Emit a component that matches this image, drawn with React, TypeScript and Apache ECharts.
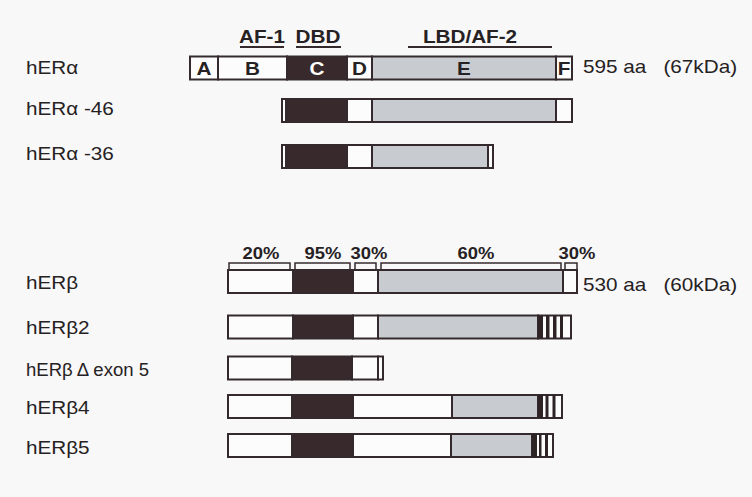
import React, { useEffect, useRef } from "react";
import * as echarts from "echarts";

// ---- data (layout units: 752 x 497 frame) ----
const rowNames = ["hERα", "hERα -46", "hERα -36", "hERβ", "hERβ2", "hERβ Δ exon 5", "hERβ4", "hERβ5"];
const rowCenters = [68, 110.5, 156.5, 281.5, 327, 368, 406.5, 445.5];
const rowLabelY = [68, 108.5, 154, 283, 328, 370, 408, 447.5];
const rowLabelWidthScale = [1.15, 1.15, 1.15, 1.15, 1.15, 1.03, 1.15, 1.15];
const rowLabelStart = 26;

// segments: [start, end, fill kind, letter]
const hERa = [[190, 218, "open", "A"], [218, 287, "open", "B"], [287, 347, "dark", "C"], [347, 372, "open", "D"], [372, 556, "grey", "E"], [556, 572, "open", "F"]];
const hERa46 = [[282, 286, "open", ""], [286, 347, "dark", ""], [347, 372, "open", ""], [372, 556, "grey", ""], [556, 572, "open", ""]];
const hERa36 = [[282, 286, "open", ""], [286, 347, "dark", ""], [347, 372, "open", ""], [372, 488, "grey", ""], [488, 493, "open", ""]];
const hERb = [[228, 293, "open", ""], [293, 353, "dark", ""], [353, 378, "open", ""], [378, 563, "grey", ""], [563, 577, "open", ""]];
const hERb2 = [[228, 293, "open", ""], [293, 353, "dark", ""], [353, 378, "open", ""], [378, 538, "grey", ""], [538, 571, "open", ""], [538, 543, "stripe", ""], [546, 549.5, "stripe", ""], [553, 556.5, "stripe", ""], [560, 563, "stripe", ""]];
const hERbExon5 = [[228, 292, "open", ""], [292, 352, "dark", ""], [352, 378, "open", ""], [378, 383, "open", ""]];
const hERb4 = [[228, 292, "open", ""], [292, 353, "dark", ""], [353, 452, "open", ""], [452, 538, "grey", ""], [538, 562, "open", ""], [538, 543, "stripe", ""], [545.5, 548.5, "stripe", ""], [552.5, 555.5, "stripe", ""]];
const hERb5 = [[228, 292, "open", ""], [292, 353, "dark", ""], [353, 451, "open", ""], [451, 532, "grey", ""], [532, 553, "open", ""], [532, 537, "stripe", ""], [539, 541.5, "stripe", ""], [545, 548, "stripe", ""]];
const rowSegments = [hERa, hERa46, hERa36, hERb, hERb2, hERbExon5, hERb4, hERb5];

// identity brackets above hERβ
const betaBracketSpans = [[229, 290], [295, 350], [355, 376], [381, 561], [565, 577]];
const betaIdentity = ["20%", "95%", "30%", "60%", "30%"];
const betaIdentityX = [261, 323, 369, 476, 577];
const bracketTop = 263;
const bracketBottom = 269;
const identityY = 253;

// domain headers
const headerLabels = ["AF-1", "DBD", "LBD/AF-2"];
const headerTextX = [262, 318, 470];
const headerUnderline = [[240, 284], [296, 341], [408, 552]];
const headerY = 37;
const underlineY = 47;

// protein sizes
const sizeLabels = ["595 aa   (67kDa)", "530 aa   (60kDa)"];
const sizeX = 583;
const sizeY = [67, 285];

const BAR_H = 23;
const FONT = "'Liberation Sans', Arial, Helvetica, sans-serif";
const INK = "#262123";
const EDGE = "#342a2e";
const FILL: Record<string, string> = { open: "#fcfcfc", dark: "#382a2c", grey: "#c8ccd0", stripe: "#2e2426" };
const STRETCH = 1.15;

export default function App() {
  const ref = useRef<HTMLDivElement>(null);
  useEffect(() => {
    if (!ref.current) return;
    const chart = echarts.init(ref.current, undefined, { renderer: "svg" });

    const flatSegs: any[] = [];
    rowSegments.forEach((segs, r) => {
      segs.forEach((s) => flatSegs.push({ start: s[0], end: s[1], y: rowCenters[r], kind: s[2], letter: s[3] }));
    });

    const option: any = {
      animation: false,
      backgroundColor: "#f8f8f8",
      grid: { left: 0, right: 0, top: 0, bottom: 0 },
      xAxis: { type: "value", min: 0, max: 752, show: false },
      yAxis: { type: "value", min: 0, max: 497, inverse: true, show: false },
      series: [
        {
          type: "custom",
          name: "domains",
          data: flatSegs.map((s) => [s.start, s.end, s.y]),
          renderItem: (params: any, api: any) => {
            const s = flatSegs[params.dataIndex];
            const a = api.coord([api.value(0), api.value(2)]);
            const b = api.coord([api.value(1), api.value(2)]);
            const h = api.size([0, BAR_H])[1];
            const isStripe = s.kind === "stripe";
            const children: any[] = [
              {
                type: "rect",
                shape: { x: a[0], y: a[1] - h / 2, width: b[0] - a[0], height: h },
                style: isStripe
                  ? { fill: FILL.stripe, stroke: "none", lineWidth: 0 }
                  : { fill: FILL[s.kind], stroke: EDGE, lineWidth: 2 },
              },
            ];
            if (s.letter) {
              children.push({
                type: "text",
                x: (a[0] + b[0]) / 2,
                y: a[1] + 1,
                scaleX: STRETCH,
                style: {
                  text: s.letter,
                  fill: s.kind === "dark" ? "#ffffff" : INK,
                  fontFamily: FONT,
                  fontWeight: "bold",
                  fontSize: 18,
                  align: "center",
                  verticalAlign: "middle",
                },
              });
            }
            return { type: "group", children };
          },
        },
        {
          type: "custom",
          name: "identity",
          data: betaBracketSpans.map((s, i) => [s[0], s[1], betaIdentityX[i]]),
          renderItem: (params: any, api: any) => {
            const x0 = api.coord([api.value(0), bracketTop]);
            const x1 = api.coord([api.value(1), bracketBottom]);
            const t = api.coord([api.value(2), identityY]);
            return {
              type: "group",
              children: [
                {
                  type: "polyline",
                  shape: { points: [[x0[0], x1[1]], [x0[0], x0[1]], [x1[0], x0[1]], [x1[0], x1[1]]] },
                  style: { fill: "none", stroke: EDGE, lineWidth: 1.5 },
                },
                {
                  type: "text",
                  x: t[0],
                  y: t[1],
                  scaleX: STRETCH,
                  style: {
                    text: betaIdentity[params.dataIndex],
                    fill: INK,
                    fontFamily: FONT,
                    fontWeight: "bold",
                    fontSize: 16,
                    align: "center",
                    verticalAlign: "middle",
                  },
                },
              ],
            };
          },
        },
        {
          type: "custom",
          name: "headers",
          data: headerUnderline.map((s, i) => [s[0], s[1], headerTextX[i]]),
          renderItem: (params: any, api: any) => {
            const l0 = api.coord([api.value(0), underlineY]);
            const l1 = api.coord([api.value(1), underlineY]);
            const t = api.coord([api.value(2), headerY]);
            return {
              type: "group",
              children: [
                {
                  type: "line",
                  shape: { x1: l0[0], y1: l0[1], x2: l1[0], y2: l1[1] },
                  style: { stroke: EDGE, lineWidth: 2 },
                },
                {
                  type: "text",
                  x: t[0],
                  y: t[1],
                  scaleX: STRETCH,
                  style: {
                    text: headerLabels[params.dataIndex],
                    fill: INK,
                    fontFamily: FONT,
                    fontWeight: "bold",
                    fontSize: 18,
                    align: "center",
                    verticalAlign: "middle",
                  },
                },
              ],
            };
          },
        },
        {
          type: "custom",
          name: "rowLabels",
          data: rowLabelY.map((y) => [rowLabelStart, y]),
          renderItem: (params: any, api: any) => {
            const p = api.coord([api.value(0), api.value(1)]);
            return {
              type: "text",
              x: p[0],
              y: p[1],
              scaleX: rowLabelWidthScale[params.dataIndex],
              style: {
                text: rowNames[params.dataIndex],
                fill: INK,
                fontFamily: FONT,
                fontSize: 18,
                align: "left",
                verticalAlign: "middle",
              },
            };
          },
        },
        {
          type: "custom",
          name: "sizes",
          data: sizeY.map((y) => [sizeX, y]),
          renderItem: (params: any, api: any) => {
            const p = api.coord([api.value(0), api.value(1)]);
            return {
              type: "text",
              x: p[0],
              y: p[1],
              scaleX: STRETCH,
              style: {
                text: sizeLabels[params.dataIndex],
                fill: INK,
                fontFamily: FONT,
                fontSize: 18,
                align: "left",
                verticalAlign: "middle",
              },
            };
          },
        },
      ],
    };
    chart.setOption(option);
    return () => chart.dispose();
  }, []);

  return <div ref={ref} style={{ position: "fixed", left: 0, top: 0, width: 752, height: 497 }} />;
}
